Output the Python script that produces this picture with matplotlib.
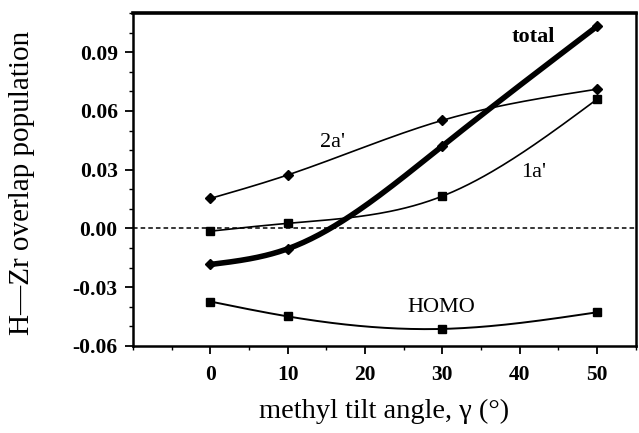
import numpy as np
import matplotlib
matplotlib.use("Agg")
import matplotlib.pyplot as plt
from matplotlib.ticker import MultipleLocator, FormatStrFormatter

# data
angle = [0, 10, 30, 50]
total = [-0.0184, -0.0104, 0.0421, 0.1032]
a2 = [0.0153, 0.0273, 0.0552, 0.0711]
a1 = [-0.0014, 0.0026, 0.0165, 0.0660]
homo = [-0.0373, -0.0449, -0.0513, -0.0428]

plt.rcParams['font.family'] = ['Liberation Serif', 'DejaVu Serif']

fig = plt.figure(figsize=[6.39, 4.33], dpi=100)
ax = fig.add_axes([0.208, 0.201, 0.787, 0.769])


def smooth(x, y, n=60):
    # natural cubic spline through the points, for drawing the curve only
    x = np.asarray(x, float)
    y = np.asarray(y, float)
    N = len(x)
    h = np.diff(x)
    A = np.zeros((N, N))
    r = np.zeros(N)
    A[0, 0] = A[-1, -1] = 1.0
    for k in range(1, N - 1):
        A[k, k - 1] = h[k - 1]
        A[k, k] = 2 * (h[k - 1] + h[k])
        A[k, k + 1] = h[k]
        r[k] = 6 * ((y[k + 1] - y[k]) / h[k] - (y[k] - y[k - 1]) / h[k - 1])
    M = np.linalg.solve(A, r)
    xx, yy = [], []
    for k in range(N - 1):
        t = np.linspace(x[k], x[k + 1], n)
        a = (x[k + 1] - t) / h[k]
        b = (t - x[k]) / h[k]
        s = a * y[k] + b * y[k + 1] + ((a**3 - a) * M[k] + (b**3 - b) * M[k + 1]) * h[k]**2 / 6
        xx.append(t)
        yy.append(s)
    return np.concatenate(xx), np.concatenate(yy)


ax.axhline(0.0, color='k', lw=1.1, ls=(0, (3, 2)))

ax.plot(*smooth(angle, total), 'k-', lw=4.0, solid_capstyle='round')
ax.plot(angle, total, 'kD', ms=5)
ax.plot(*smooth(angle, a2), 'k-', lw=1.2)
ax.plot(angle, a2, 'kD', ms=5)
ax.plot(*smooth(angle, a1), 'k-', lw=1.2)
ax.plot(angle, a1, 'ks', ms=6)
ax.plot(*smooth(angle, homo), 'k-', lw=1.4)
ax.plot(angle, homo, 'ks', ms=6)

ax.text(41.7, 0.0977, 'total', fontsize=16, fontweight='bold', ha='center', va='center')
ax.text(15.8, 0.044, "2a'", fontsize=16, ha='center', va='center')
ax.text(41.8, 0.0286, "1a'", fontsize=16, ha='center', va='center')
ax.text(29.8, -0.0404, 'HOMO', fontsize=16, ha='center', va='center')

ax.set_xlim(-10, 55)
ax.set_ylim(-0.06, 0.11)
ax.set_xticks([0, 10, 20, 30, 40, 50])
ax.set_yticks([-0.06, -0.03, 0.0, 0.03, 0.06, 0.09])
ax.xaxis.set_minor_locator(MultipleLocator(5))
ax.yaxis.set_minor_locator(MultipleLocator(0.01))
ax.yaxis.set_major_formatter(FormatStrFormatter('%.2f'))
ax.tick_params(which='major', direction='out', length=6, width=1.3, labelsize=15.5)
ax.tick_params(which='minor', direction='out', length=3, width=1.0)
ax.tick_params(axis='x', pad=8)
ax.tick_params(axis='y', pad=5)
for lab in ax.get_xticklabels() + ax.get_yticklabels():
    lab.set_fontweight('bold')
for s in ax.spines.values():
    s.set_linewidth(1.8)
ax.spines['top'].set_linewidth(2.6)

ax.set_xlabel('methyl tilt angle, γ (°)', fontsize=20.5)
ax.set_ylabel('H—Zr overlap population', fontsize=21)
ax.xaxis.set_label_coords(0.5, -0.158)
ax.yaxis.set_label_coords(-0.195, 0.49)

plt.savefig('out.png', dpi=100)
